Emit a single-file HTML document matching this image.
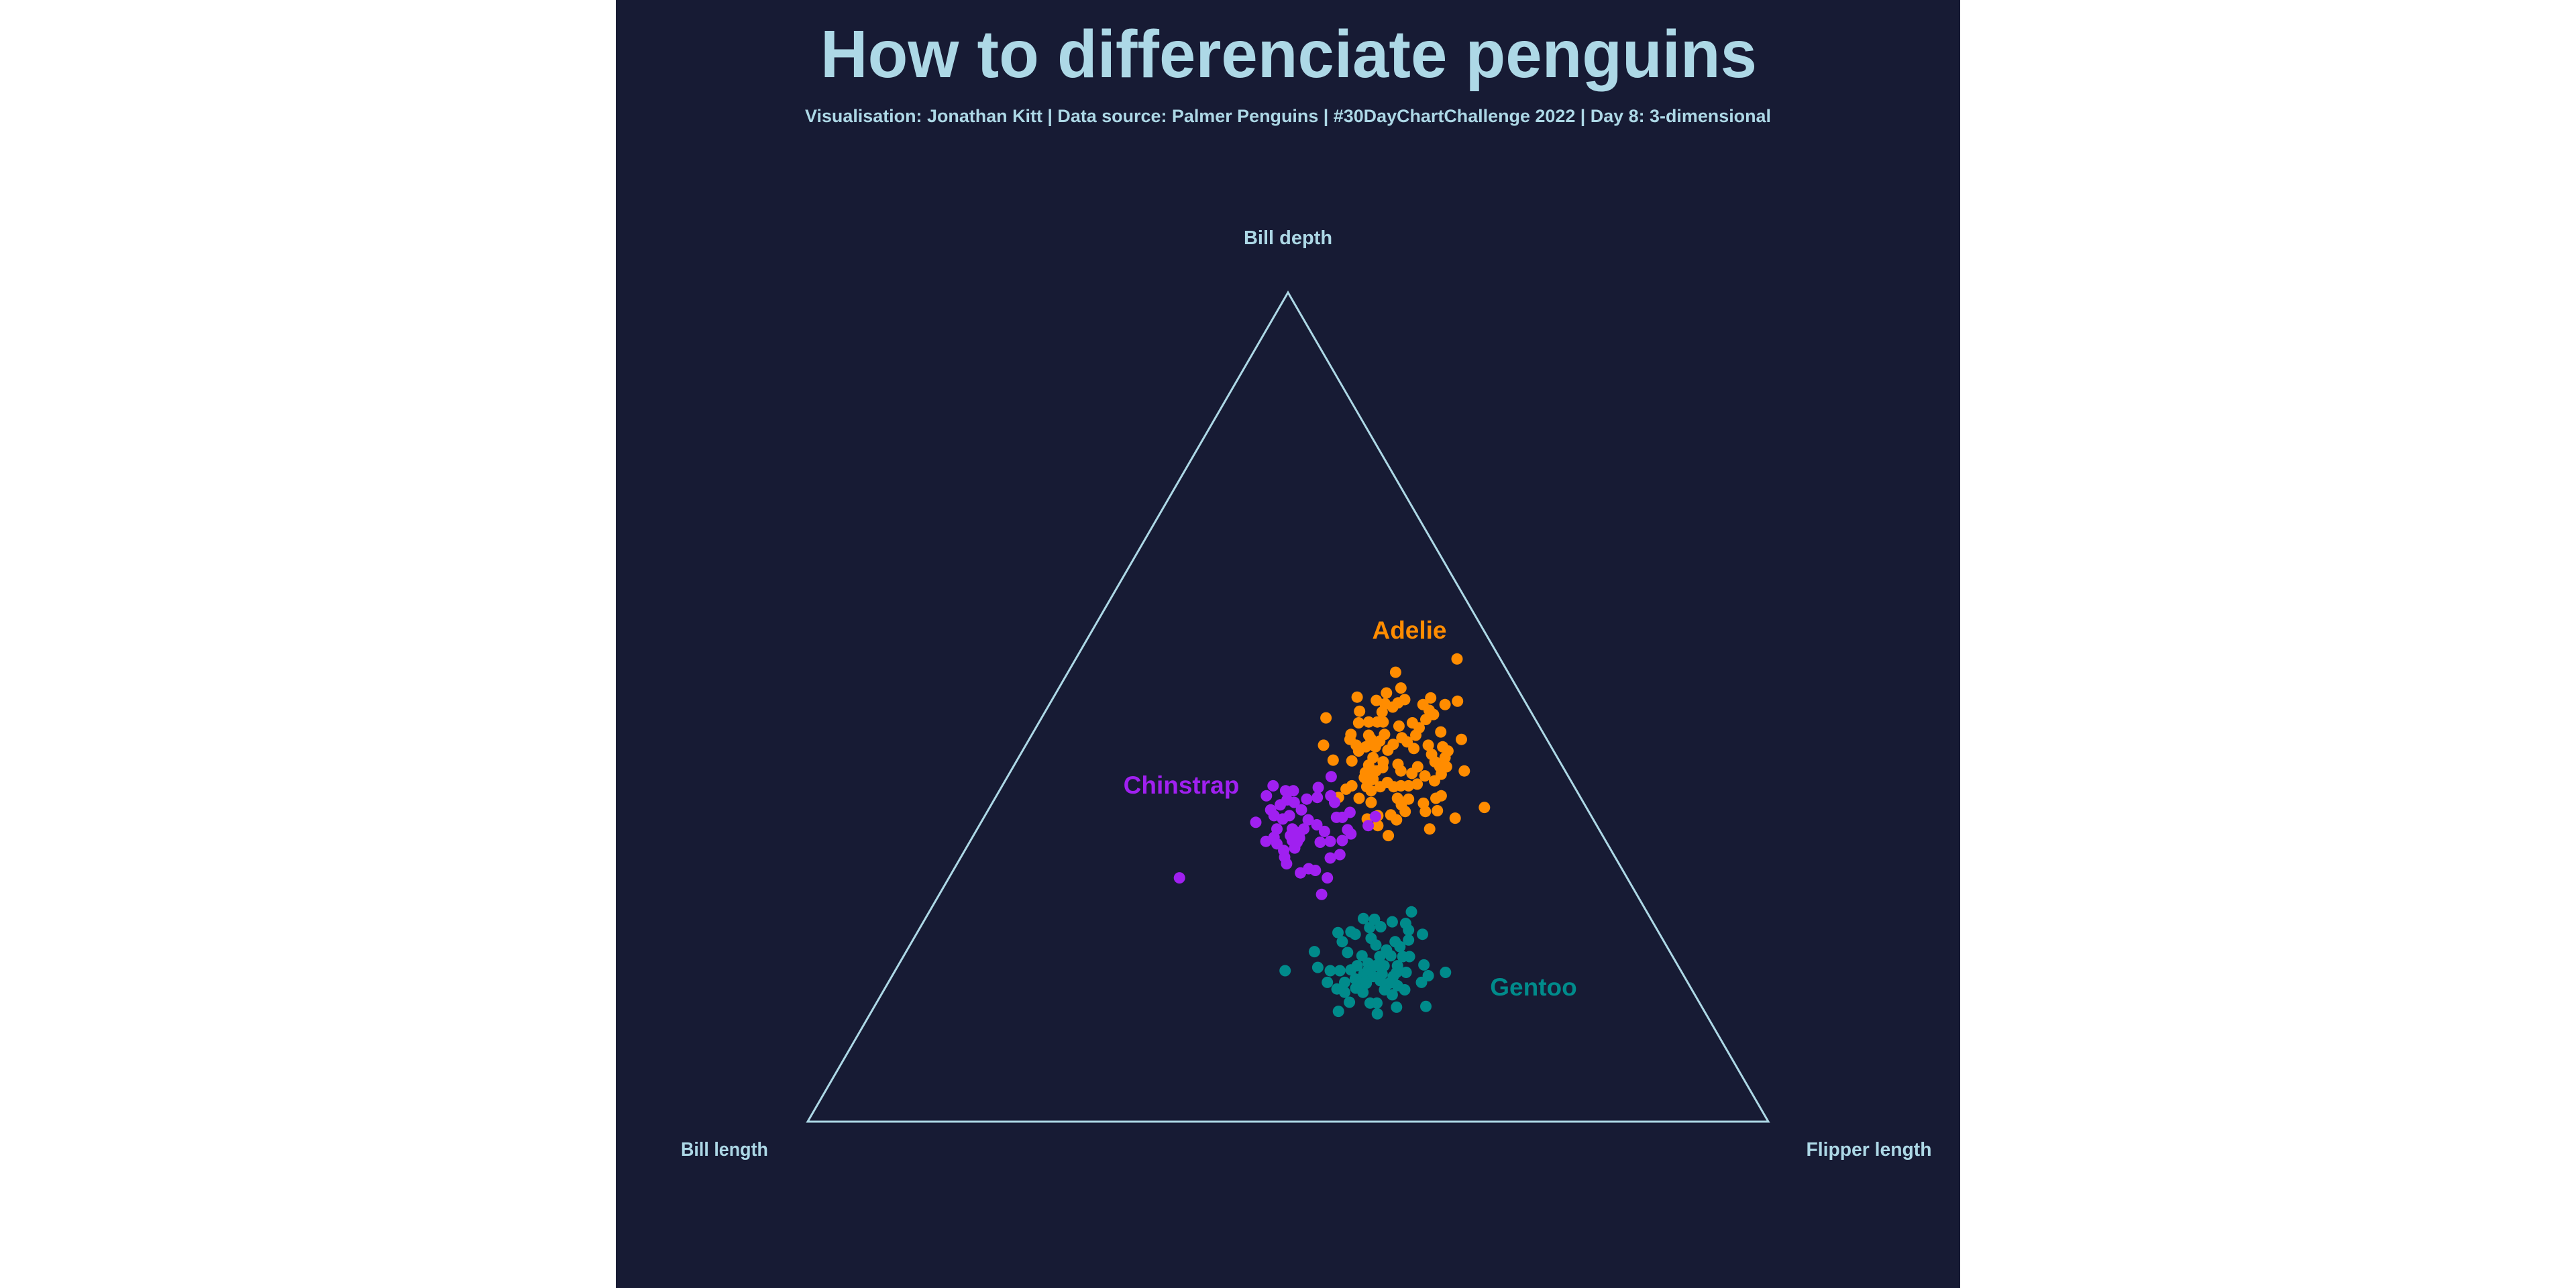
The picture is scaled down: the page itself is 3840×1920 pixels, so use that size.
<!DOCTYPE html>
<html><head><meta charset="utf-8"><style>
html,body{margin:0;padding:0;background:#fff;}
svg{display:block;}
text{font-family:"Liberation Sans",sans-serif;font-weight:bold;}
</style></head><body>
<svg id="chart" width="3840" height="1920" viewBox="0 0 3840 1920" xmlns="http://www.w3.org/2000/svg">
<rect x="0" y="0" width="3840" height="1920" fill="#ffffff"/>
<rect x="918" y="0" width="2004" height="1920" fill="#171b34"/>
<text x="1921" y="115" text-anchor="middle" font-size="100" fill="#add8e6" textLength="1396" lengthAdjust="spacingAndGlyphs">How to differenciate penguins</text>
<text x="1920" y="182" text-anchor="middle" font-size="27" fill="#add8e6" textLength="1440" lengthAdjust="spacingAndGlyphs">Visualisation: Jonathan Kitt | Data source: Palmer Penguins | #30DayChartChallenge 2022 | Day 8: 3-dimensional</text>
<polygon points="1920,436 1204,1672 2636,1672" fill="none" stroke="#add8e6" stroke-width="3"/>
<text x="1920" y="364" text-anchor="middle" font-size="29" fill="#add8e6">Bill depth</text>
<text x="1080" y="1723" text-anchor="middle" font-size="29" fill="#add8e6" textLength="130" lengthAdjust="spacingAndGlyphs">Bill length</text>
<text x="2786" y="1723" text-anchor="middle" font-size="29" fill="#add8e6" textLength="187" lengthAdjust="spacingAndGlyphs">Flipper length</text>
<g id="points"></g>
<text x="2101" y="952" text-anchor="middle" font-size="37" fill="#ff8c00">Adelie</text>
<text x="1761" y="1183" text-anchor="middle" font-size="37" fill="#a020f0">Chinstrap</text>
<text x="2286" y="1484" text-anchor="middle" font-size="37" fill="#008b8b">Gentoo</text>
</svg>
<script>
// ternary data: bill depth share (%) and flipper length share (%); bill length share = 100 - both
const adelieDepth = [55.8,54.2,52.3,51.7,51.2,50.8,51.1,50.7,50.3,50.9,50.5,50.0,50.4,50.3,49.6,49.1,48.5,49.5,49.4,48.7,48.1,48.2,48.2,48.2,47.7,48.1,47.5,46.6,47.0,46.1,46.7,46.1,46.6,46.2,46.7,45.9,45.2,45.4,45.4,45.2,44.7,44.8,45.5,46.3,45.8,45.0,45.4,45.2,44.7,44.3,43.9,43.4,43.6,43.5,43.9,43.4,43.0,42.1,42.3,42.7,43.1,42.3,42.0,42.8,41.7,42.8,42.8,41.9,42.3,41.5,41.3,40.4,40.9,40.4,40.1,40.5,40.4,40.5,40.5,40.7,41.1,39.9,39.0,38.5,39.0,38.9,38.2,37.4,38.4,37.4,39.0,39.3,39.1,37.9,37.5,36.6,36.5,36.9,37.0,36.4,35.7,35.3,34.5];
const adelieFlipper = [39.7,34.1,35.6,34.4,31.6,33.8,39.3,42.3,41.2,36.7,36.2,35.9,34.9,38.9,39.9,40.6,40.1,32.7,35.1,29.6,33.3,34.3,35.2,35.8,37.7,38.9,39.9,40.0,42.4,45.0,33.2,33.4,35.1,35.5,36.7,36.6,36.5,31.0,34.4,35.5,35.0,38.0,38.2,38.7,39.5,40.6,41.9,43.5,44.3,42.8,44.4,43.6,32.9,34.9,36.9,38.2,36.9,37.0,38.0,38.5,39.9,40.6,41.9,42.1,43.4,44.4,45.1,45.0,47.2,37.2,38.2,39.4,39.9,38.0,36.0,36.4,40.8,41.5,42.3,43.1,44.7,38.7,37.9,39.4,41.9,43.1,42.7,43.5,44.9,45.6,45.9,46.3,35.7,51.5,46.8,49.1,40.0,40.9,42.2,43.1,41.5,47.1,43.2];
const chinstrapDepth = [41.6,40.5,39.9,39.9,39.3,40.3,38.2,38.8,38.5,38.9,39.1,39.3,38.5,37.6,36.9,37.6,37.3,36.7,36.7,36.1,36.5,36.9,36.4,35.8,35.0,35.2,34.7,36.8,35.7,35.3,34.3,33.8,33.5,35.3,34.7,34.5,35.3,33.7,33.0,33.7,33.8,33.9,32.7,31.9,31.1,31.8,32.2,30.0,30.5,30.3,29.4,27.4,29.4,35.0,34.2,33.9];
const chinstrapFlipper = [33.7,28.2,29.8,30.6,28.1,33.0,30.1,30.5,31.4,32.5,33.5,34.8,35.6,29.4,30.1,32.6,37.8,36.7,37.3,28.6,31.2,31.7,33.9,35.1,36.3,38.6,39.2,40.7,40.5,31.2,31.4,30.8,32.1,32.8,33.8,33.0,34.0,34.1,34.2,36.5,37.5,38.7,33.2,33.7,34.3,38.5,39.3,36.3,36.9,37.7,39.4,39.8,24.0,33.2,34.1,33.5];
const gentooDepth = [25.3,24.5,24.4,24.1,23.9,23.1,23.5,23.4,22.8,22.9,22.6,22.6,21.7,21.9,22.1,21.7,21.1,20.5,20.4,21.3,20.7,20.0,19.9,20.0,19.9,19.9,18.9,18.6,18.2,18.2,18.3,18.8,19.1,18.8,18.8,18.0,18.0,17.6,16.8,18.0,18.2,16.8,16.8,17.2,17.8,17.5,17.0,16.7,16.4,15.9,15.9,16.0,15.6,16.1,15.6,15.3,14.3,14.3,14.4,13.8,13.9,13.3,13.0,16.7,18.3,18.8,16.7,17.8,17.5];
const gentooFlipper = [50.2,45.6,46.8,48.8,50.3,51.0,47.9,46.8,43.8,45.1,45.7,52.7,44.8,51.6,47.6,50.3,51.1,42.5,46.0,48.5,49.9,47.7,49.6,50.7,52.7,52.0,54.7,43.8,45.3,46.3,47.4,47.8,48.8,50.6,52.0,53.3,52.3,55.8,55.5,57.4,40.6,45.7,47.5,48.4,49.0,50.1,51.1,52.2,53.2,54.2,52.1,47.1,48.1,49.0,50.0,53.2,51.4,52.1,49.2,54.4,57.4,48.6,52.8,49.4,49.2,49.7,49.8,50.9,52.2];

const TOP = [1920, 436], LEFT = [1204, 1672], RIGHT = [2636, 1672];
function tx(depth, flip) {
  const b = depth / 100, c = flip / 100, a = 1 - b - c;
  return a * LEFT[0] + b * TOP[0] + c * RIGHT[0];
}
function ty(depth, flip) {
  const b = depth / 100, c = flip / 100, a = 1 - b - c;
  return a * LEFT[1] + b * TOP[1] + c * RIGHT[1];
}
const layer = document.getElementById('points');
const NS = 'http://www.w3.org/2000/svg';
function drawSpecies(depths, flips, color, name) {
  const g = document.createElementNS(NS, 'g');
  
  
  for (let i = 0; i < depths.length; i++) {
    const c = document.createElementNS(NS, 'circle');
    c.setAttribute('cx', tx(depths[i], flips[i]).toFixed(1));
    c.setAttribute('cy', ty(depths[i], flips[i]).toFixed(1));
    c.setAttribute('r', '8.5');
    c.setAttribute('fill', color);
    
    
    g.appendChild(c);
  }
  layer.appendChild(g);
}
drawSpecies(gentooDepth, gentooFlipper, '#008b8b', 'gentoo');
drawSpecies(adelieDepth, adelieFlipper, '#ff8c00', 'adelie');
drawSpecies(chinstrapDepth, chinstrapFlipper, '#a020f0', 'chinstrap');
</script>
</body></html>
